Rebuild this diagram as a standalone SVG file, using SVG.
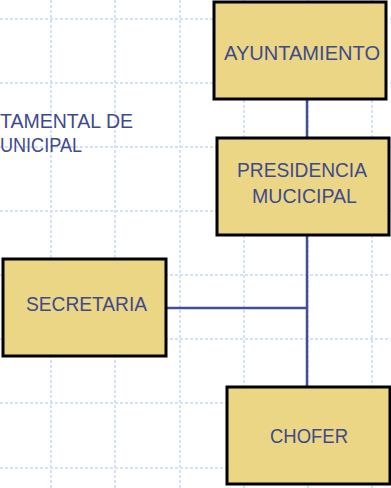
<svg xmlns="http://www.w3.org/2000/svg" width="391" height="488" viewBox="0 0 391 488">
<style>
.grid line{stroke:#d6e0fa;stroke-width:2;stroke-dasharray:3 2}
.box{fill:#ead684;stroke:#000;stroke-width:3}
.t{font-family:"Liberation Sans",Arial,sans-serif;font-size:21px;fill:#3f4a8c;text-anchor:middle}
.tl{font-family:"Liberation Sans",Arial,sans-serif;font-size:21px;fill:#3f4a8c}
.conn line{stroke:#434e98;stroke-width:2.5}
</style>
<rect width="391" height="488" fill="#fff"/>
<g class="grid">
<line x1="51" y1="0" x2="51" y2="488"/>
<line x1="115" y1="0" x2="115" y2="488"/>
<line x1="180" y1="0" x2="180" y2="488"/>
<line x1="244" y1="0" x2="244" y2="488"/>
<line x1="308" y1="0" x2="308" y2="488"/>
<line x1="372" y1="0" x2="372" y2="488"/>
<line x1="0" y1="19" x2="391" y2="19"/>
<line x1="0" y1="83" x2="391" y2="83"/>
<line x1="0" y1="147" x2="391" y2="147"/>
<line x1="0" y1="211" x2="391" y2="211"/>
<line x1="0" y1="275" x2="391" y2="275"/>
<line x1="0" y1="339" x2="391" y2="339"/>
<line x1="0" y1="403" x2="391" y2="403"/>
<line x1="0" y1="468" x2="391" y2="468"/>
</g>
<g id="title">
<text class="tl" x="0" y="128" textLength="133" lengthAdjust="spacingAndGlyphs">TAMENTAL DE</text>
<text class="tl" x="0" y="152" textLength="82" lengthAdjust="spacingAndGlyphs">UNICIPAL</text>
</g>
<g class="conn" id="connectors">
<line x1="307" y1="99" x2="307" y2="138"/>
<line x1="307" y1="235" x2="307" y2="387"/>
<line x1="164" y1="308" x2="307" y2="308"/>
</g>
<g id="ayuntamiento">
<rect class="box" x="214" y="2" width="172" height="97"/>
<text class="t" x="302" y="60" textLength="156" lengthAdjust="spacingAndGlyphs">AYUNTAMIENTO</text>
</g>
<g id="presidencia">
<rect class="box" x="217" y="138" width="172" height="97"/>
<text class="t" x="302" y="177" textLength="130" lengthAdjust="spacingAndGlyphs">PRESIDENCIA</text>
<text class="t" x="304.5" y="203" textLength="105" lengthAdjust="spacingAndGlyphs">MUCICIPAL</text>
</g>
<g id="secretaria">
<rect class="box" x="3" y="259" width="163" height="97"/>
<text class="t" x="86.5" y="311" textLength="121" lengthAdjust="spacingAndGlyphs">SECRETARIA</text>
</g>
<g id="chofer">
<rect class="box" x="227" y="387" width="163" height="97"/>
<text class="t" x="309" y="443" textLength="78" lengthAdjust="spacingAndGlyphs">CHOFER</text>
</g>
</svg>
